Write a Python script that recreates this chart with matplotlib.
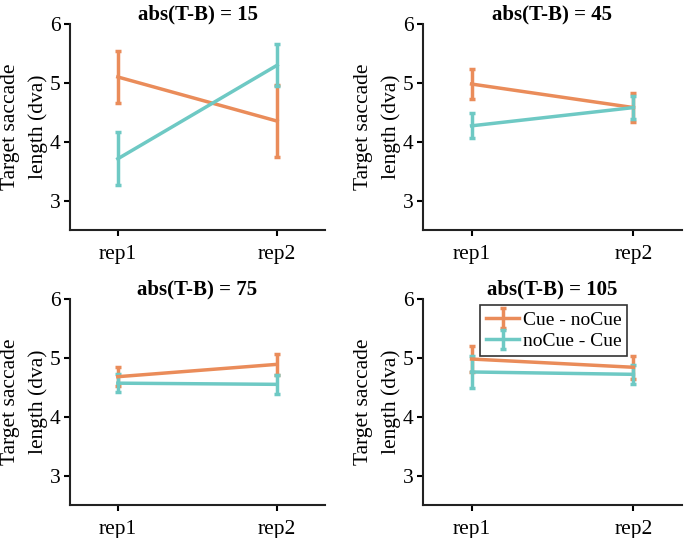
import matplotlib
matplotlib.use("Agg")
import matplotlib.pyplot as plt
import numpy as np

plt.rcParams['font.family'] = ['Liberation Serif', 'DejaVu Serif']

titles = ["abs(T-B) = 15", "abs(T-B) = 45", "abs(T-B) = 75", "abs(T-B) = 105"]
xlabels = ["rep1", "rep2"]
series_names = ["Cue - noCue", "noCue - Cue"]

# mean values [rep1, rep2] per panel
cue_nocue_mean = [[5.10, 4.35], [4.98, 4.58], [4.68, 4.89], [4.98, 4.84]]
cue_nocue_err = [[0.44, 0.61], [0.26, 0.24], [0.16, 0.18], [0.22, 0.20]]
nocue_cue_mean = [[3.71, 5.30], [4.27, 4.58], [4.57, 4.55], [4.76, 4.72]]
nocue_cue_err = [[0.45, 0.36], [0.21, 0.19], [0.155, 0.16], [0.28, 0.16]]

colors = ["#EA8C5A", "#6EC9C4"]

fig = plt.figure(figsize=(6.85, 5.38), dpi=100)
W, H = 685, 538
boxes = [(70, 24, 325, 230), (423, 24, 682, 230),
         (70, 299, 325, 505), (423, 299, 682, 505)]

x = np.arange(1, 3)
for i, (l, t, r, b) in enumerate(boxes):
    ax = fig.add_axes([l / W, 1 - b / H, (r - l) / W, (b - t) / H])
    handles = []
    for means, errs, c, name in [(cue_nocue_mean, cue_nocue_err, colors[0], series_names[0]),
                                 (nocue_cue_mean, nocue_cue_err, colors[1], series_names[1])]:
        h = ax.errorbar(x, means[i], yerr=errs[i], color=c, lw=2.5, elinewidth=2.5,
                        capsize=2.5, capthick=2.5, label=name)
        handles.append(h)
    ax.set_xlim(0.7, 2.3)
    ax.set_ylim(2.5, 6)
    ax.set_yticks([3, 4, 5, 6])
    ax.set_xticks(x)
    ax.set_xticklabels(xlabels)
    ax.tick_params(direction='out', length=4, width=1.5, labelsize=15.5, pad=3)
    ax.tick_params(axis='x', pad=7)
    for s in ['top', 'right']:
        ax.spines[s].set_visible(False)
    for s in ['left', 'bottom']:
        ax.spines[s].set_linewidth(1.5)
        ax.spines[s].set_color('#222222')
    ax.set_title(titles[i], fontsize=15, fontweight='bold', pad=3)
    ax.set_ylabel("Target saccade\nlength (dva)", fontsize=15.5, linespacing=1.6, labelpad=1)
    if i == 3:
        leg = ax.legend(handles=handles, loc='upper center', bbox_to_anchor=(0.505, 0.97),
                        fontsize=14, frameon=True, fancybox=False, edgecolor='black',
                        handlelength=1.7, handletextpad=0.2, borderpad=0.3,
                        labelspacing=0.2, borderaxespad=0)
        leg.get_frame().set_linewidth(1.2)

fig.savefig("out.png", dpi=100)
